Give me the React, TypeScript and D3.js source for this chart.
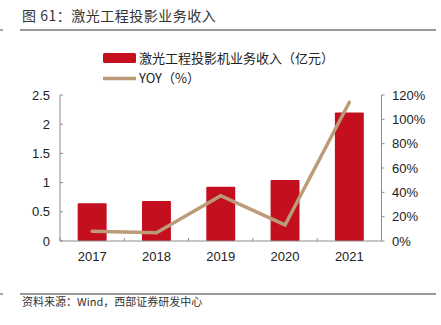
import React from "react";
import * as d3 from "d3";

const years = ["2017", "2018", "2019", "2020", "2021"];
const revenue = [0.645, 0.685, 0.93, 1.045, 2.2];
const yoy = [8.0, 6.8, 37.2, 13.2, 114];
const leftTicks = [0, 0.5, 1, 1.5, 2, 2.5];
const rightTicks = [0, 20, 40, 60, 80, 100, 120];
const leftTickLabels = ["0", "0.5", "1", "1.5", "2", "2.5"];
const rightTickLabels = ["0%", "20%", "40%", "60%", "80%", "100%", "120%"];

const W = 441;
const H = 325;
const plotLeft = 60;
const plotRight = 381.5;
const plotTop = 95;
const plotBottom = 241;
const barColor = "#C40F1E";
const lineColor = "#BC9B78";
const axisColor = "#8c8c8c";
const latin = "'Liberation Sans', Arial, sans-serif";
const cjk = "'Noto Sans CJK SC', 'Liberation Sans', sans-serif";

export default function App() {
  const x = d3.scaleBand<string>().domain(years).range([plotLeft, plotRight]).paddingInner(0.55).paddingOuter(0.275);
  const yL = d3.scaleLinear().domain([0, 2.5]).range([plotBottom, plotTop]);
  const yR = d3.scaleLinear().domain([0, 120]).range([plotBottom, plotTop]);
  const step = (plotRight - plotLeft) / years.length;
  const line = d3
    .line<number>()
    .x((_, i) => (x(years[i]) as number) + x.bandwidth() / 2)
    .y((d) => yR(d));
  const boundaries = d3.range(years.length + 1).map((i) => plotLeft + i * step);

  return (
    <svg width={W} height={H} style={{ position: "absolute", left: 0, top: 0, background: "#fff" }}>
      <text x={22} y={20.5} fontFamily={cjk} fontSize={14} letterSpacing={0.5} fill="#333">
        图 61：激光工程投影业务收入
      </text>
      <line x1={20} x2={436} y1={30} y2={30} stroke="#333" strokeWidth={1} />
      <line x1={0} x2={3} y1={30} y2={30} stroke="#555" strokeWidth={1} />

      {/* legend */}
      <rect x={103} y={53} width={33} height={10} rx={1.5} fill={barColor} />
      <text x={139} y={62.5} fontFamily={cjk} fontSize={13} fill="#222">
        激光工程投影机业务收入（亿元）
      </text>
      <line x1={103} x2={136} y1={78.5} y2={78.5} stroke={lineColor} strokeWidth={3.5} />
      <text x={139} y={83} fontFamily={cjk} fontSize={13} fill="#222">
        YOY（%）
      </text>

      {/* bars */}
      {revenue.map((v, i) => (
        <rect
          key={years[i]}
          x={x(years[i])}
          y={yL(v)}
          width={x.bandwidth()}
          height={plotBottom - yL(v)}
          rx={1}
          fill={barColor}
        />
      ))}

      {/* axes */}
      <line x1={plotLeft} x2={plotLeft} y1={plotTop} y2={plotBottom} stroke={axisColor} />
      <line x1={plotRight} x2={plotRight} y1={plotTop} y2={plotBottom} stroke={axisColor} />
      <line x1={plotLeft} x2={plotRight} y1={plotBottom} y2={plotBottom} stroke={axisColor} />
      {leftTicks.map((t, i) => (
        <g key={"l" + t}>
          <line x1={plotLeft} x2={plotLeft + 3} y1={yL(t)} y2={yL(t)} stroke={axisColor} />
          <text x={50} y={yL(t) + 4.5} textAnchor="end" fontFamily={latin} fontSize={13} fill="#222">
            {leftTickLabels[i]}
          </text>
        </g>
      ))}
      {rightTicks.map((t, i) => (
        <g key={"r" + t}>
          <line x1={plotRight} x2={plotRight + 3} y1={yR(t)} y2={yR(t)} stroke={axisColor} />
          <text x={392} y={yR(t) + 4.5} textAnchor="start" fontFamily={latin} fontSize={13} fill="#222">
            {rightTickLabels[i]}
          </text>
        </g>
      ))}
      {boundaries.map((b, i) => (
        <line key={"b" + i} x1={b} x2={b} y1={plotBottom} y2={plotBottom - 3} stroke={axisColor} />
      ))}
      {years.map((yr) => (
        <text
          key={"x" + yr}
          x={(x(yr) as number) + x.bandwidth() / 2}
          y={261}
          textAnchor="middle"
          fontFamily={latin}
          fontSize={13}
          fill="#222"
        >
          {yr}
        </text>
      ))}

      {/* line */}
      <path d={line(yoy) || ""} fill="none" stroke={lineColor} strokeWidth={3.5} strokeLinejoin="miter" strokeLinecap="round" />

      <line x1={20} x2={436} y1={294} y2={294} stroke="#333" strokeWidth={1} />
      <line x1={0} x2={3} y1={294} y2={294} stroke="#555" strokeWidth={1} />
      <text x={22} y={306} fontFamily={cjk} fontSize={11} fill="#333">
        资料来源：Wind，西部证券研发中心
      </text>
    </svg>
  );
}
